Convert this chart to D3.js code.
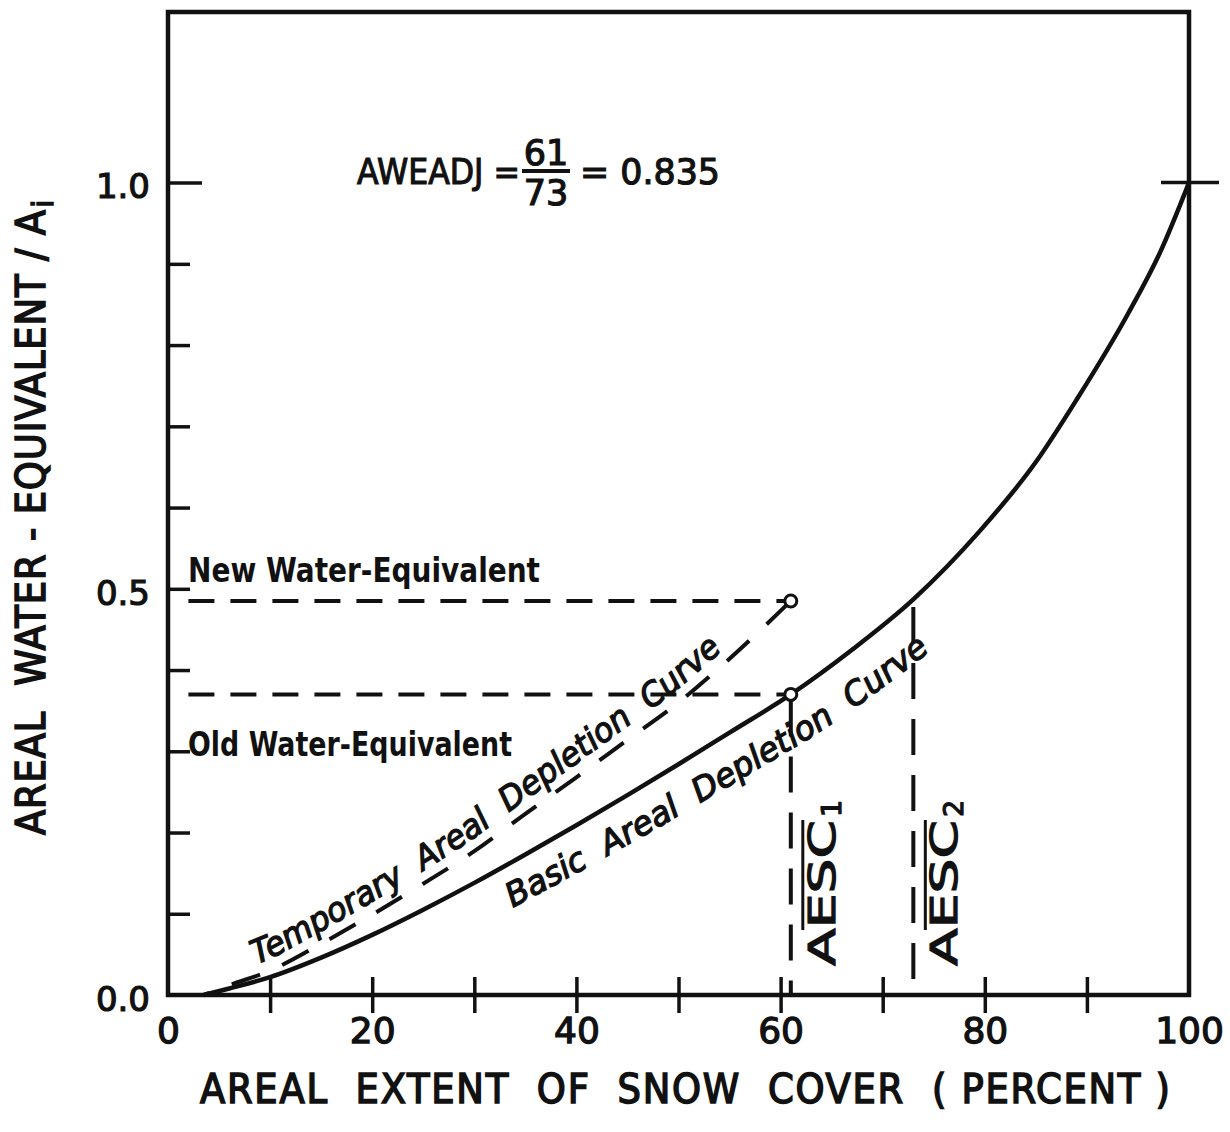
<!DOCTYPE html>
<html><head><meta charset="utf-8">
<script src="https://cdn.jsdelivr.net/npm/d3@7"></script>
<style>
html,body{margin:0;padding:0;background:#fff;}
svg{display:block;background:#fff;}
text{fill:#111;}
</style></head><body>
<svg id="chart" width="1230" height="1132"></svg>
<script>
// ---- data ----
const basicX = [3.5, 6, 10, 15, 20, 25, 30, 35, 40, 45, 50, 55, 61, 67, 73, 79.5, 85, 89, 94, 97.2, 100];
const basicY = [0, 0.008, 0.022, 0.046, 0.074, 0.105, 0.138, 0.173, 0.209, 0.246, 0.284, 0.323, 0.370, 0.425, 0.487, 0.571, 0.656, 0.733, 0.838, 0.915, 1.0];
const tempX = [3.5, 6, 10, 15, 20, 25, 30, 35, 40, 45, 50, 55, 61];
const tempY = [0, 0.012, 0.030, 0.063, 0.099, 0.137, 0.177, 0.223, 0.268, 0.314, 0.360, 0.414, 0.485];
const xLabelTicks = [0, 20, 40, 60, 80, 100];
const xMarkTicks = [10, 20, 30, 40, 50, 60, 70, 80, 90];
const yLabelTicks = [0, 0.5, 1.0];
const yMarkTicks = [0.1, 0.2, 0.3, 0.4, 0.5, 0.6, 0.7, 0.8, 0.9];
const aescValues = [61, 73];
const aescSubs = ["1", "2"];
const weValues = [0.370, 0.485];
const weLabels = ["Old Water-Equivalent", "New Water-Equivalent"];
const fractionParts = ["61", "73"];
const aweadjResult = "0.835";
const xTitle = "AREAL  EXTENT  OF  SNOW  COVER  ( PERCENT )";
const yTitle = "AREAL  WATER - EQUIVALENT / A";
const tempLabel = "Temporary  Areal  Depletion  Curve";
const basicLabel = "Basic  Areal  Depletion  Curve";

// ---- drawing ----
const svg = d3.select("#chart");
const FONT = "'DejaVu Sans', sans-serif";
const COND = "'DejaVu Sans Condensed', 'DejaVu Sans', sans-serif";
const x = d3.scaleLinear().domain([0, 100]).range([168, 1189]);
const y = d3.scaleLinear().domain([0, 1.21]).range([995, 12]);
const INK = "#111";

// frame
svg.append("rect")
  .attr("x", x(0)).attr("y", y(1.21))
  .attr("width", x(100) - x(0)).attr("height", y(0) - y(1.21))
  .attr("fill", "none").attr("stroke", INK).attr("stroke-width", 4.5);

// y marks (inward)
const yMarks = svg.append("g").attr("transform", `translate(${x(0)},0)`)
  .call(d3.axisRight(y).tickValues(yMarkTicks).tickSize(22).tickFormat(""));
yMarks.select(".domain").remove();
yMarks.selectAll("line").attr("stroke", INK).attr("stroke-width", 3.5);
const yOne = svg.append("g").attr("transform", `translate(${x(0)},0)`)
  .call(d3.axisRight(y).tickValues([1.0]).tickSize(34).tickFormat(""));
yOne.select(".domain").remove();
yOne.selectAll("line").attr("stroke", INK).attr("stroke-width", 3.5);
// right-side cross at 1.0
svg.append("line").attr("x1", x(100) - 28).attr("x2", x(100) + 30)
  .attr("y1", y(1.0)).attr("y2", y(1.0)).attr("stroke", INK).attr("stroke-width", 3.5);

// y labels
const yLab = svg.append("g").attr("transform", `translate(${x(0)},0)`)
  .call(d3.axisLeft(y).tickValues(yLabelTicks).tickSize(0).tickPadding(18).tickFormat(d3.format(".1f")));
yLab.select(".domain").remove();
yLab.selectAll("text").attr("font-family", FONT).attr("font-size", 34).attr("fill", INK)
  .attr("stroke", INK).attr("stroke-width", 1.2).attr("dy", "0.45em");

// x marks crossing the axis
const xMarks = svg.append("g").attr("transform", `translate(0,${y(0)})`)
  .call(d3.axisBottom(x).tickValues(xMarkTicks).tickSize(18).tickFormat(""));
xMarks.select(".domain").remove();
xMarks.selectAll("line").attr("y1", -18).attr("stroke", INK).attr("stroke-width", 3.5);

// x labels
const xLab = svg.append("g").attr("transform", `translate(0,${y(0)})`)
  .call(d3.axisBottom(x).tickValues(xLabelTicks).tickSize(0).tickPadding(22).tickFormat(d3.format("d")));
xLab.select(".domain").remove();
xLab.selectAll("text").attr("font-family", FONT).attr("font-size", 36).attr("fill", INK)
  .attr("stroke", INK).attr("stroke-width", 1.3);

// axis titles
svg.append("text").attr("x", 200).attr("y", 1103)
  .attr("font-family", COND).attr("font-size", 41).attr("textLength", 970).attr("lengthAdjust", "spacing")
  .attr("stroke", INK).attr("stroke-width", 1.5).style("white-space", "pre").text(xTitle);
const yt = svg.append("text").attr("transform", "translate(45,835) rotate(-90)")
  .attr("font-family", COND).attr("font-size", 41).attr("stroke", INK).attr("stroke-width", 1.5)
  .style("white-space", "pre");
yt.append("tspan").attr("textLength", 625).attr("lengthAdjust", "spacing").text(yTitle);
yt.append("tspan").attr("font-size", 28).attr("dy", 8).attr("dx", 2).text("i");

// curves
const line = d3.line().x(d => x(d[0])).y(d => y(d[1])).curve(d3.curveMonotoneX);
const basicData = basicX.map((v, i) => [v, basicY[i]]);
const tempData = tempX.map((v, i) => [v, tempY[i]]);
const basicPath = svg.append("path").attr("d", line(basicData))
  .attr("fill", "none").attr("stroke", INK).attr("stroke-width", 4.5);
const tempPath = svg.append("path").attr("d", line(tempData))
  .attr("fill", "none").attr("stroke", INK).attr("stroke-width", 4)
  .attr("stroke-dasharray", "30 24").attr("stroke-dashoffset", -30);

// dashed reference lines
weValues.forEach((w, i) => {
  svg.append("line").attr("x1", x(2)).attr("x2", x(aescValues[0]) - 4)
    .attr("y1", y(w)).attr("y2", y(w))
    .attr("stroke", INK).attr("stroke-width", 4).attr("stroke-dasharray", "26 16");
  svg.append("line").attr("x1", x(aescValues[i])).attr("x2", x(aescValues[i]))
    .attr("y1", y(w) + 6).attr("y2", y(0))
    .attr("stroke", INK).attr("stroke-width", 4).attr("stroke-dasharray", "36 20");
});
weValues.forEach(w => {
  svg.append("circle").attr("cx", x(aescValues[0])).attr("cy", y(w)).attr("r", 6)
    .attr("fill", "#fff").attr("stroke", INK).attr("stroke-width", 3);
});

// water-equivalent labels
svg.append("text").attr("x", 188).attr("y", 582).attr("font-family", FONT).attr("font-weight", "bold")
  .attr("font-size", 33).attr("textLength", 352).attr("lengthAdjust", "spacingAndGlyphs").text(weLabels[1]);
svg.append("text").attr("x", 188).attr("y", 756).attr("font-family", FONT).attr("font-weight", "bold")
  .attr("font-size", 33).attr("textLength", 324).attr("lengthAdjust", "spacingAndGlyphs").text(weLabels[0]);

// AESC labels
aescValues.forEach((a, i) => {
  const g = svg.append("g").attr("transform", `translate(${x(a) + 44},966) rotate(-90)`);
  const t = g.append("text").attr("font-family", FONT).attr("font-size", 38)
    .attr("stroke", INK).attr("stroke-width", 1.2);
  t.append("tspan").attr("textLength", 146).attr("lengthAdjust", "spacingAndGlyphs").text("AESC");
  t.append("tspan").attr("font-size", 27).attr("dy", 6).attr("dx", 3).text(aescSubs[i]);
  g.append("line").attr("x1", 36).attr("x2", 146).attr("y1", -32).attr("y2", -32)
    .attr("stroke", INK).attr("stroke-width", 3);
});

// AWEADJ formula
svg.append("text").attr("x", 357).attr("y", 184).attr("font-family", FONT).attr("font-size", 36)
  .attr("stroke", INK).attr("stroke-width", 1.2).attr("textLength", 163).attr("lengthAdjust", "spacingAndGlyphs")
  .text("AWEADJ =");
svg.append("text").attr("x", 546).attr("y", 165).attr("text-anchor", "middle").attr("font-family", FONT)
  .attr("font-size", 35).attr("stroke", INK).attr("stroke-width", 1.2).text(fractionParts[0]);
svg.append("line").attr("x1", 522).attr("x2", 570).attr("y1", 171).attr("y2", 171)
  .attr("stroke", INK).attr("stroke-width", 4);
svg.append("text").attr("x", 546).attr("y", 205).attr("text-anchor", "middle").attr("font-family", FONT)
  .attr("font-size", 35).attr("stroke", INK).attr("stroke-width", 1.2).text(fractionParts[1]);
svg.append("text").attr("x", 580).attr("y", 184).attr("font-family", FONT).attr("font-size", 36)
  .attr("stroke", INK).attr("stroke-width", 1.2).attr("textLength", 140).attr("lengthAdjust", "spacingAndGlyphs")
  .text("= " + aweadjResult);

// text following curves (offset grows linearly along the curve)
function offsetCurve(pathNode, off0, off1, id) {
  const L = pathNode.getTotalLength();
  const pts = [];
  for (let s = 0; s <= L; s += 3) {
    const off = off0 + (off1 - off0) * (s / L);
    const p = pathNode.getPointAtLength(s);
    const q = pathNode.getPointAtLength(Math.min(L, s + 2));
    const r = pathNode.getPointAtLength(Math.max(0, s - 2));
    let tx = q.x - r.x, ty = q.y - r.y; const n = Math.hypot(tx, ty) || 1; tx /= n; ty /= n;
    pts.push([p.x + off * ty, p.y - off * tx]);
  }
  const el = svg.append("defs").append("path").attr("id", id)
    .attr("d", d3.line().curve(d3.curveBasis)(pts));
  return el.node();
}
function lengthAtX(node, px) {
  const L = node.getTotalLength();
  for (let s = 0; s <= L; s += 1) { if (node.getPointAtLength(s).x >= px) return s; }
  return L;
}
function curveLabel(srcPath, off0, off1, id, x0, x1, label, size) {
  const node = offsetCurve(srcPath.node(), off0, off1, id);
  const s0 = lengthAtX(node, x0), s1 = lengthAtX(node, x1);
  svg.append("text").attr("font-family", FONT).attr("font-style", "italic").attr("font-size", size)
    .attr("stroke", INK).attr("stroke-width", 1.3).style("white-space", "pre")
    .append("textPath").attr("href", "#" + id).attr("startOffset", s0)
    .attr("textLength", s1 - s0).attr("lengthAdjust", "spacingAndGlyphs").text(label);
}
curveLabel(tempPath, 11, 11, "tempLab", 256, 722, tempLabel, 33);
curveLabel(basicPath, -34, -60, "basicLab", 512, 930, basicLabel, 33);
</script>
</body></html>
